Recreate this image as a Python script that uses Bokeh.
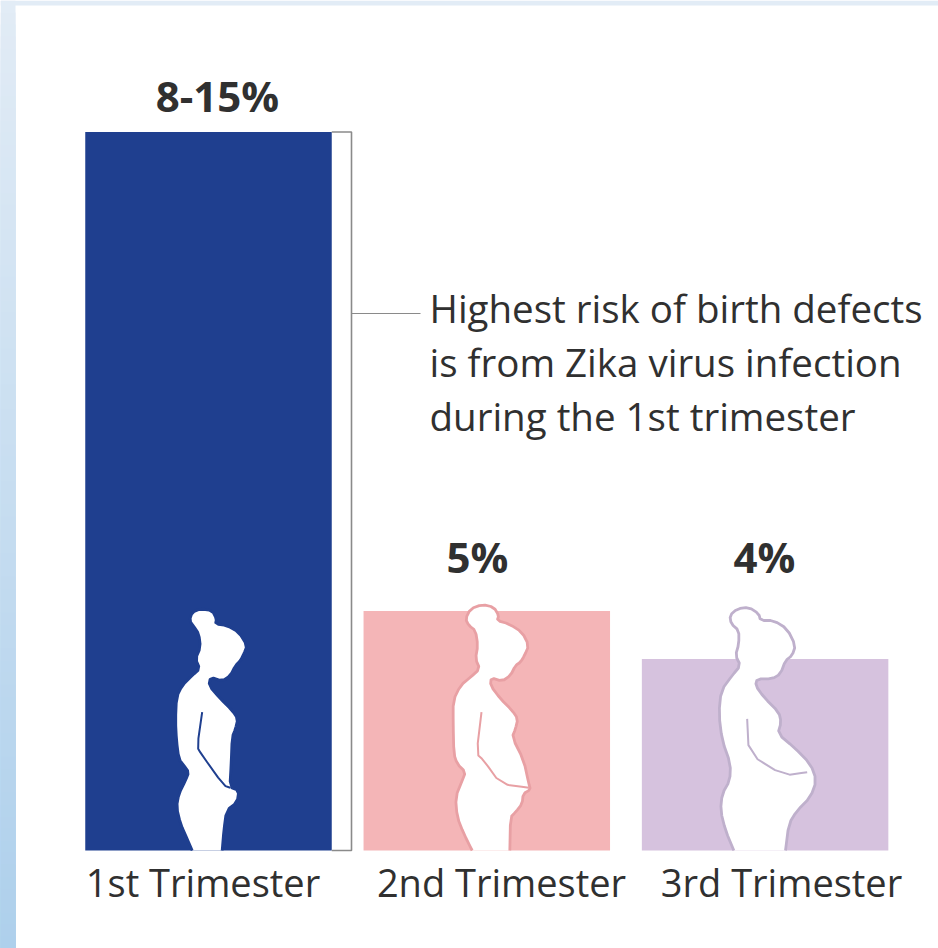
from bokeh.embed import file_html
from bokeh.resources import INLINE
from bokeh.plotting import figure
from bokeh.core.properties import value

# Birth-defect risk by trimester of infection
categories = ["1st Trimester", "2nd Trimester", "3rd Trimester"]
risk_pct = [15, 5, 4]
risk_labels = ["8-15%", "5%", "4%"]
bar_colors = ["#1f3f8f", "#f4b5b7", "#d6c2de"]
outline_colors = ["#1f3f8f", "#e8a0a4", "#bfb0cc"]
note_lines = ["Highest risk of birth defects",
              "is from Zika virus infection",
              "during the 1st trimester"]

# Figure outlines, traced at 3 units per pixel; y grows downward from 780 at the feet
body_first = [(155,780),(140,745),(120,700),(108,650),(115,610),(135,570),(145,545),(130,525),(115,505),(108,450),
              (105,390),(108,320),(125,285),(155,255),(178,235),(165,205),(180,170),(175,130),(160,108),(147,90),
              (155,65),(180,55),(215,60),(228,85),(225,100),(260,105),(295,125),(320,165),(310,190),(300,210),
              (285,225),(270,255),(245,272),(210,260),(205,285),(240,325),(275,360),(292,385),(285,415),(275,440),
              (272,520),(268,590),(295,600),(290,635),(258,660),(250,720),(245,780)]
body_second = [(155,780),(130,730),(110,680),(105,620),(125,570),(135,545),(110,520),(100,490),(98,400),(98,330),
               (120,285),(150,260),(178,235),(165,205),(172,165),(165,120),(145,105),(135,85),(150,55),(185,42),
               (220,50),(235,75),(230,90),(265,100),(305,125),(325,165),(312,195),(300,215),(285,225),(270,255),
               (245,272),(212,262),(210,285),(240,325),(275,360),(292,385),(285,415),(275,440),(310,510),(325,580),
               (330,597),(308,610),(305,640),(285,665),(270,680),(268,780)]
body_third = [(130,780),(105,720),(90,660),(95,610),(118,570),(120,520),(95,450),(85,370),(92,300),(125,255),
              (150,225),(135,195),(145,160),(145,120),(122,100),(118,75),(140,55),(175,50),(205,70),(210,90),
              (250,90),(290,115),(315,165),(305,195),(285,210),(270,250),(245,265),(200,265),(195,285),(220,320),
              (265,365),(272,395),(262,430),(310,470),(360,520),(378,570),(360,620),(320,660),(295,700),(285,780)]
arm_first = [(185,365),(170,470),(182,490),(250,585),(270,592)]
arm_second = [(183,365),(168,490),(190,510),(240,580),(325,592)]
arm_third = [(170,385),(175,490),(280,555),(350,545)]

PX_PER_PCT = 47.9
BASELINE = 850
BAR_WIDTH = 246.5
BAR_START = 208
BAR_STEP = 278.3
BASELINE_SHIFT = 0.41  # the renderer sets alphabetic text this share of the size too low


def y_at(px):
    """Percent value that lands on pixel row px."""
    return (BASELINE - px) / PX_PER_PCT


def text_y(px, size):
    """Anchor that puts a text's baseline on pixel row px."""
    return y_at(px - BASELINE_SHIFT * size)


def rounded(points):
    """One pass of corner-cutting so traced outlines read as curves; the ends stay put."""
    out = [points[0]]
    for (x0, y0), (x1, y1) in zip(points, points[1:]):
        out.append((0.75 * x0 + 0.25 * x1, 0.75 * y0 + 0.25 * y1))
        out.append((0.25 * x0 + 0.75 * x1, 0.25 * y0 + 0.75 * y1))
    out.append(points[-1])
    return out


p = figure(width=938, height=948, x_range=(0, 938), y_range=(y_at(948), y_at(0)),
           output_backend="svg", toolbar_location=None, min_border=0,
           background_fill_color="white", border_fill_color="white", outline_line_color=None)
p.xaxis.visible = False
p.yaxis.visible = False
p.grid.visible = False

# Page backdrop: a pale strip on top and a blue gradient down the left edge
p.quad(left=0, right=938, top=y_at(0), bottom=y_at(5), fill_color="#e2ecf6", line_color=None)
for row in range(0, 948, 12):
    t = row / 948
    shade = (int(226 - 52 * t), int(236 - 28 * t), int(246 - 10 * t))
    # Each band runs to the page foot so no seam shows between bands
    p.quad(left=0, right=15, top=y_at(row), bottom=y_at(948),
           fill_color="#%02x%02x%02x" % shade, line_color=None)

# Bars
centers = [BAR_START + i * BAR_STEP for i in range(len(categories))]
p.vbar(x=centers, width=BAR_WIDTH, bottom=0, top=risk_pct, fill_color=bar_colors, line_color=None)

# Figures standing in each bar; the outline stays open at the feet
bodies = [body_first, body_second, body_third]
arms = [arm_first, arm_second, arm_third]
anchors = [140, 420, 690]
for body, arm, anchor, edge in zip(bodies, arms, anchors, outline_colors):
    smooth = rounded(body)
    xs = [anchor + x / 3 for x, _ in smooth]
    ys = [y_at(590 + y / 3) for _, y in smooth]
    p.patch(xs, ys, fill_color="white", line_color=None)
    p.line(xs, ys, line_color=edge, line_width=2.8, line_join="round")
    smooth_arm = rounded(arm)
    p.line([anchor + x / 3 for x, _ in smooth_arm], [y_at(590 + y / 3) for _, y in smooth_arm],
           line_color=edge, line_width=2, line_join="round")

# Bracket around the first bar, with a leader to the note
bracket_x = centers[0] + BAR_WIDTH / 2
p.line([bracket_x, 351, 351, bracket_x], [risk_pct[0], risk_pct[0], 0, 0], line_color="#8a8a8a", line_width=1.6)
p.line([351, 420], [y_at(313), y_at(313)], line_color="#8a8a8a", line_width=1.2)

# Texts
font = value("Open Sans")
ink = "#303030"
p.text(x=[217, 477, 764], y=[text_y(112, 42), text_y(573, 42), text_y(573, 42)], text=risk_labels, text_font=font,
       text_font_style="bold", text_font_size="42px", text_align="center", text_baseline="alphabetic",
       text_color=ink)
p.text(x=[202.5, 501, 781], y=[text_y(897, 38)] * 3, text=categories, text_font=font, text_font_size="38px",
       text_align="center", text_baseline="alphabetic", text_color=ink)
p.text(x=[429] * 3, y=[text_y(323, 38.5), text_y(377, 38.5), text_y(431, 38.5)], text=note_lines, text_font=font,
       text_font_size="38.5px", text_align="left", text_baseline="alphabetic", text_color=ink)

open("out.html", "w").write(file_html(p, INLINE))
